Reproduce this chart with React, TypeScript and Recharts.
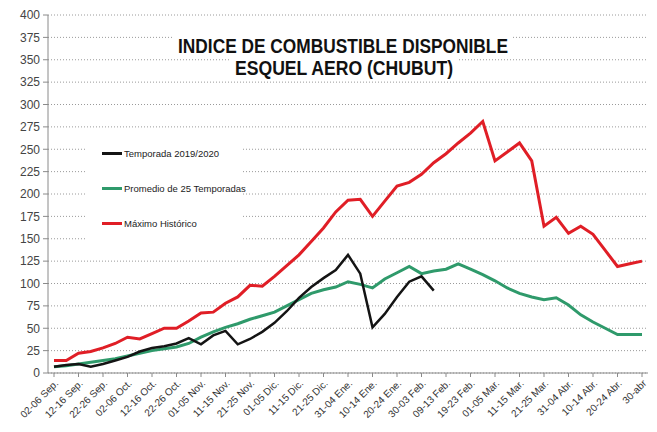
import { LineChart, Line, XAxis, YAxis, CartesianGrid, Legend } from "recharts";

// pentads, Sep -> Apr
const periods = [
  "02-06 Sep.", "07-11 Sep.", "12-16 Sep.", "17-21 Sep.", "22-26 Sep.", "27-01 Oct.",
  "02-06 Oct.", "07-11 Oct.", "12-16 Oct.", "17-21 Oct.", "22-26 Oct.", "27-31 Oct.",
  "01-05 Nov.", "06-10 Nov.", "11-15 Nov.", "16-20 Nov.", "21-25 Nov.", "26-30 Nov.",
  "01-05 Dic.", "06-10 Dic.", "11-15 Dic.", "16-20 Dic.", "21-25 Dic.", "26-30 Dic.",
  "31-04 Ene.", "05-09 Ene.", "10-14 Ene.", "15-19 Ene.", "20-24 Ene.", "25-29 Ene.",
  "30-03 Feb.", "04-08 Feb.", "09-13 Feb.", "14-18 Feb.", "19-23 Feb.", "24-28 Feb.",
  "01-05 Mar.", "06-10 Mar.", "11-15 Mar.", "16-20 Mar.", "21-25 Mar.", "26-30 Mar.",
  "31-04 Abr.", "05-09 Abr.", "10-14 Abr.", "15-19 Abr.", "20-24 Abr.", "25-29 Abr.",
  "30-abr",
];

const temporada = [
  7, 9, 10, 7, 10, 14, 18, 24, 28, 30, 33, 39, 32, 42, 47, 32, 38, 46, 56, 69,
  84, 96, 106, 115, 132, 111, 51, 66, 85, 102, 108, 92,
];

const promedio = [
  7, 8, 10, 12, 14, 16, 19, 22, 25, 27, 29, 33, 40, 46, 51, 55, 60, 64, 68, 75,
  82, 89, 93, 96, 102, 99, 95, 105, 112, 119, 111, 114, 116, 122, 116, 110, 103, 95, 89, 85,
  82, 84, 76, 65, 57, 50, 43, 43, 43,
];

const maximo = [
  14, 14, 22, 24, 28, 33, 40, 38, 44, 50, 50, 58, 67, 68, 78, 85, 98, 97, 108, 120,
  132, 147, 162, 180, 193, 194, 175, 192, 209, 213, 222, 235, 245, 257, 268, 281, 237, 247, 257, 237,
  164, 174, 156, 164, 155, 137, 119, 122, 125,
];

const yTicks = [0, 25, 50, 75, 100, 125, 150, 175, 200, 225, 250, 275, 300, 325, 350, 375, 400];

const series = [
  { key: "temporada", name: "Temporada 2019/2020", color: "#141414" },
  { key: "promedio", name: "Promedio de 25 Temporadas", color: "#2f9a6b" },
  { key: "maximo", name: "Máximo Histórico", color: "#e01e26" },
];

const data = periods.map((p, i) => ({
  period: p,
  temporada: temporada[i] ?? null,
  promedio: promedio[i],
  maximo: maximo[i],
}));

const font = "Arial, 'Liberation Sans', sans-serif";

function LegendBox() {
  return (
    <div style={{ position: "relative", width: 158, height: 115, background: "#fff", fontFamily: font }}>
      {series.map((s, i) => (
        <div
          key={s.key}
          style={{ position: "absolute", left: 17, top: 13 + i * 35, display: "flex", alignItems: "center" }}
        >
          <div style={{ width: 20, height: 3, background: s.color, marginRight: 2 }} />
          <span style={{ fontSize: 9.5, color: "#222", whiteSpace: "nowrap" }}>{s.name}</span>
        </div>
      ))}
    </div>
  );
}

export default function App() {
  return (
    <div
      style={{
        position: "relative",
        width: 657,
        height: 432,
        margin: -8,
        border: "3px solid #000",
        boxSizing: "border-box",
        background: "#fff",
      }}
    >
      <LineChart
        width={651}
        height={426}
        data={data}
        margin={{ top: 12, right: 6, bottom: 0, left: 0 }}
      >
        <CartesianGrid vertical={false} stroke="#9a9a9a" strokeDasharray="1 2" />
        <XAxis
          dataKey="period"
          interval={1}
          height={56}
          padding={{ left: 6, right: 6 }}
          stroke="#8a8a8a"
          tickSize={4}
          tickMargin={2}
          angle={-45}
          textAnchor="end"
          tick={{ fontSize: 10, fill: "#333", fontFamily: font }}
        />
        <YAxis
          domain={[0, 400]}
          ticks={yTicks}
          width={45}
          stroke="#8a8a8a"
          tickSize={5}
          tickMargin={3}
          interval={0}
          tick={{ fontSize: 12, fill: "#444", fontFamily: font }}
        />
        <YAxis yAxisId="r" orientation="right" width={0} tick={false} tickLine={false} stroke="#b0b0b0" />
        <Legend
          layout="vertical"
          align="center"
          verticalAlign="middle"
          wrapperStyle={{ left: 82, top: 132, width: 158 }}
          content={() => <LegendBox />}
        />
        <Line
          type="linear"
          dataKey="maximo"
          name="Máximo Histórico"
          stroke="#e01e26"
          strokeWidth={3}
          dot={false}
          isAnimationActive={false}
        />
        <Line
          type="linear"
          dataKey="promedio"
          name="Promedio de 25 Temporadas"
          stroke="#2f9a6b"
          strokeWidth={3}
          dot={false}
          isAnimationActive={false}
        />
        <Line
          type="linear"
          dataKey="temporada"
          name="Temporada 2019/2020"
          stroke="#141414"
          strokeWidth={2.5}
          dot={false}
          isAnimationActive={false}
        />
      </LineChart>
      <svg width={657} height={100} style={{ position: "absolute", left: -3, top: -3, pointerEvents: "none" }}>
        <rect x={174} y={34} width={338} height={22} fill="#fff" />
        <rect x={230} y={57} width={228} height={22} fill="#fff" />
        <text
          x={343}
          y={53}
          textAnchor="middle"
          fontFamily={font}
          fontWeight="bold"
          fontSize={21}
          fill="#111"
          textLength={330}
          lengthAdjust="spacingAndGlyphs"
        >
          INDICE DE COMBUSTIBLE DISPONIBLE
        </text>
        <text
          x={344}
          y={75}
          textAnchor="middle"
          fontFamily={font}
          fontWeight="bold"
          fontSize={21}
          fill="#111"
          textLength={218}
          lengthAdjust="spacingAndGlyphs"
        >
          ESQUEL AERO (CHUBUT)
        </text>
      </svg>
    </div>
  );
}
